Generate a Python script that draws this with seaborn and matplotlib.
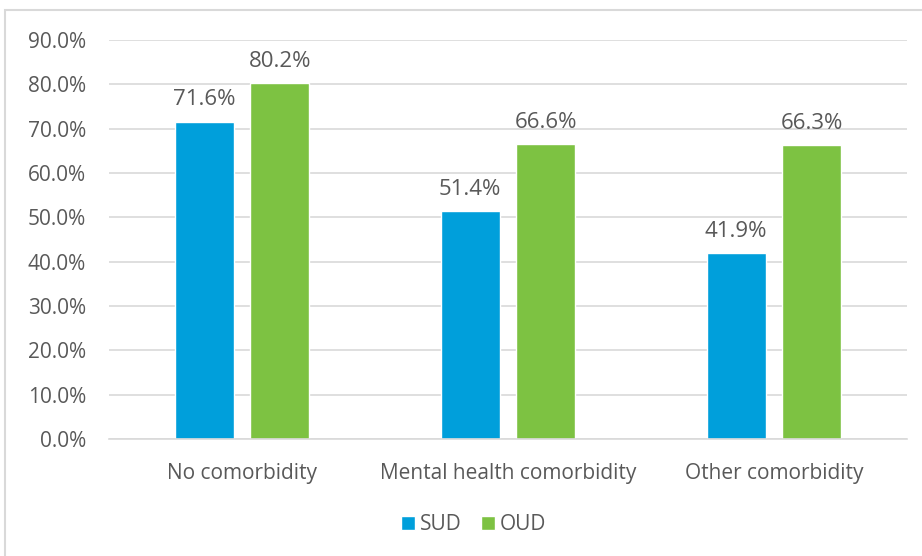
import matplotlib
matplotlib.use("Agg")
import matplotlib.pyplot as plt
from matplotlib.patches import Rectangle
import pandas as pd
import seaborn as sns

categories = ["No comorbidity", "Mental health comorbidity", "Other comorbidity"]
groups = ["SUD", "OUD"]
sud_values = [71.6, 51.4, 41.9]
oud_values = [80.2, 66.6, 66.3]
y_ticks = [0, 10, 20, 30, 40, 50, 60, 70, 80, 90]
palette = {"SUD": "#009FDB", "OUD": "#7DC242"}

df = pd.DataFrame({
    "category": categories * 2,
    "group": ["SUD"] * len(categories) + ["OUD"] * len(categories),
    "value": sud_values + oud_values,
})

sns.set_theme(style="white")
plt.rcParams["font.family"] = ["Open Sans", "DejaVu Sans"]
text_color = "#595959"

fig = plt.figure(figsize=(9.22, 5.56), dpi=100)
W, H = 922, 556
ax = fig.add_axes([109 / W, 1 - 439 / H, 798 / W, 399 / H])

sns.barplot(data=df, x="category", y="value", hue="group", hue_order=groups,
            order=categories, palette=palette, width=0.568, gap=0.22,
            saturation=1, ax=ax, legend=True)

ax.set_ylim(0, 90)
ax.set_xlim(-0.5, 2.5)
ax.set_yticks(y_ticks)
ax.set_yticklabels([f"{t:.1f}%" for t in y_ticks])
ax.yaxis.grid(True, color="#D9D9D9", linewidth=1.2)
ax.set_axisbelow(True)
for side in ["top", "right", "left"]:
    ax.spines[side].set_visible(False)
ax.spines["bottom"].set_color("#D9D9D9")
ax.spines["bottom"].set_linewidth(1.2)
ax.tick_params(axis="both", length=0, labelsize=15, colors=text_color)
ax.tick_params(axis="x", pad=17)
ax.tick_params(axis="y", pad=16.5)
ax.set_xlabel("")
ax.set_ylabel("")

for container in ax.containers:
    ax.bar_label(container, labels=[f"{v:.1f}%" for v in container.datavalues],
                 padding=8, fontsize=16, color=text_color)

leg = ax.legend(loc="center", bbox_to_anchor=(0.457, -0.215), ncol=2, frameon=False,
                fontsize=15, handlelength=0.68, handleheight=0.68,
                handletextpad=0.25, columnspacing=0.9)
for t in leg.get_texts():
    t.set_color(text_color)

# chart border box
fig.patches.append(Rectangle((5 / W, -0.1), 1.2, 1 - 10 / H + 0.1,
                             transform=fig.transFigure, fill=False,
                             edgecolor="#D9D9D9", linewidth=1.5, zorder=0))

fig.savefig("out.png", dpi=100)
